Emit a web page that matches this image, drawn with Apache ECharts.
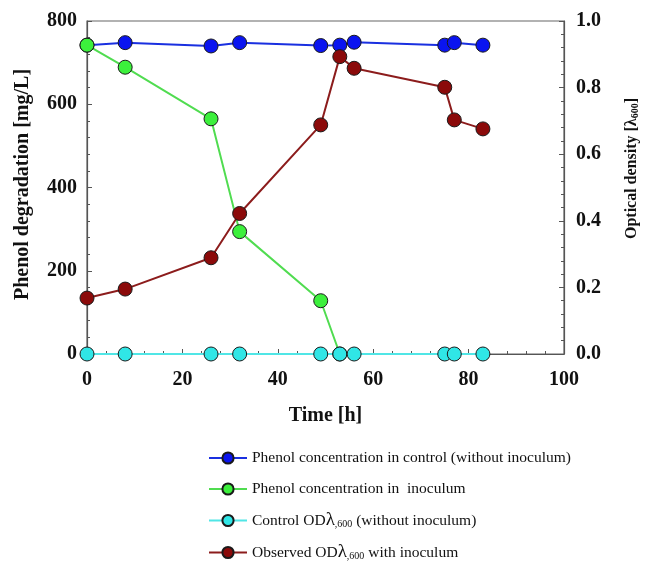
<!DOCTYPE html>
<html>
<head>
<meta charset="utf-8">
<script src="https://cdn.jsdelivr.net/npm/echarts@6/dist/echarts.min.js"></script>
<style>html,body{margin:0;padding:0;background:#fff}#c{width:645px;height:563px}</style>
</head>
<body>
<div id="c"></div>
<script>
var times = [0, 8, 26, 32, 49, 53, 56, 75, 77, 83];
var phenolControl = [742, 748, 740, 748, 741, 742, 749, 742, 748, 742];
var phenolInocTimes = [0, 8, 26, 32, 49, 53];
var phenolInoculum = [742, 689, 565, 294, 128, 0];
var odControl = [0, 0, 0, 0, 0, 0, 0, 0, 0, 0];
var odInoculum = [0.168, 0.195, 0.289, 0.422, 0.688, 0.893, 0.858, 0.801, 0.703, 0.676];
var xTicks = [0, 20, 40, 60, 80, 100];
var names = [
  'Phenol concentration in control (without inoculum)',
  'Phenol concentration in  inoculum',
  'Control ODλ,600 (without inoculum)',
  'Observed ODλ,600 with inoculum'
];

function pairs(xs, ys) { return xs.map(function (x, i) { return [x, ys[i]]; }); }

var serif = 'Liberation Serif';
var chart = echarts.init(document.getElementById('c'));

function series(name, data, fill, line, yIdx) {
  return {
    name: name, type: 'line', data: data, yAxisIndex: yIdx,
    symbol: 'circle', symbolSize: 14,
    lineStyle: { color: line, width: 2 },
    itemStyle: { color: fill, borderColor: '#1a1a1a', borderWidth: 1 },
    emphasis: { disabled: true }, animation: false
  };
}

var axisLine = { show: true, lineStyle: { color: '#555', width: 1.2 } };
var tickLbl = { fontFamily: serif, fontWeight: 'bold', fontSize: 20, color: '#111' };

chart.setOption({
  animation: false,
  grid: { left: 87, right: 81, top: 21, bottom: 209, show: true, borderColor: '#666', borderWidth: 1.2, outerBoundsMode: 'none', containLabel: false },
  legend: {
    orient: 'vertical', left: 203, top: 444, itemGap: 13, height: 130,
    itemWidth: 38, itemHeight: 14,
    data: names,
    formatter: function (n) {
      if (n === names[2]) return 'Control OD{l|λ}{s|,600} (without inoculum)';
      if (n === names[3]) return 'Observed OD{l|λ}{s|,600} with inoculum';
      return n;
    },
    textStyle: {
      fontFamily: serif, fontSize: 15.5, color: '#111', lineHeight: 18,
      rich: {
        l: { fontFamily: serif, fontSize: 19, color: '#111', lineHeight: 17 },
        s: { fontFamily: serif, fontSize: 10, color: '#111', lineHeight: 14, verticalAlign: 'bottom', padding: [4, 0, 0, 0] }
      }
    }
  },
  xAxis: {
    type: 'value', min: 0, max: 100, interval: 20,
    name: 'Time [h]', nameLocation: 'middle', nameGap: 52,
    nameTextStyle: { fontFamily: serif, fontWeight: 'bold', fontSize: 20, color: '#111' },
    axisLine: axisLine,
    axisTick: { show: true, inside: true, length: 5, lineStyle: { color: '#555' } },
    minorTick: { show: true, splitNumber: 5, length: 3, lineStyle: { color: '#555' } },
    splitLine: { show: false },
    axisLabel: Object.assign({ margin: 16, formatter: function (v) { return xTicks.indexOf(v) >= 0 ? String(v) : ''; } }, tickLbl)
  },
  yAxis: [{
    type: 'value', min: 0, max: 800, interval: 200, position: 'left',
    name: 'Phenol degradation [mg/L]', nameLocation: 'middle', nameGap: 54, nameRotate: 90,
    nameTextStyle: { fontFamily: serif, fontWeight: 'bold', fontSize: 20, color: '#111', padding: [0, 0, 0, 6] },
    axisLine: axisLine,
    axisTick: { show: true, inside: true, length: 5, lineStyle: { color: '#555' } },
    minorTick: { show: true, splitNumber: 5, length: 3, lineStyle: { color: '#555' } },
    splitLine: { show: false },
    axisLabel: Object.assign({ margin: 10 }, tickLbl)
  }, {
    type: 'value', min: 0, max: 1, interval: 0.2, position: 'right',
    name: 'Optical density [{l|λ}{s|600}]', nameLocation: 'middle', nameGap: 60, nameRotate: 90,
    nameTextStyle: {
      fontFamily: serif, fontWeight: 'bold', fontSize: 16, color: '#111', padding: [0, 0, 0, 38],
      rich: {
        l: { fontFamily: serif, fontWeight: 'bold', fontSize: 16, color: '#111' },
        s: { fontFamily: serif, fontWeight: 'bold', fontSize: 10, color: '#111', verticalAlign: 'bottom', padding: [5, 0, 0, 0] }
      }
    },
    axisLine: axisLine,
    axisTick: { show: true, inside: true, length: 5, lineStyle: { color: '#555' } },
    minorTick: { show: true, splitNumber: 5, length: 3, lineStyle: { color: '#555' } },
    splitLine: { show: false },
    axisLabel: Object.assign({ margin: 12, formatter: function (v) { return v.toFixed(1); } }, tickLbl)
  }],
  series: [
    series(names[0], pairs(times, phenolControl), '#0a14f0', '#1a30e0', 0),
    series(names[1], pairs(phenolInocTimes, phenolInoculum), '#3cf03c', '#50dc50', 0),
    series(names[2], pairs(times, odControl), '#30e6e6', '#50e6e6', 1),
    series(names[3], pairs(times, odInoculum), '#8b0a0a', '#8c1c1c', 1)
  ]
});
</script>
</body>
</html>
